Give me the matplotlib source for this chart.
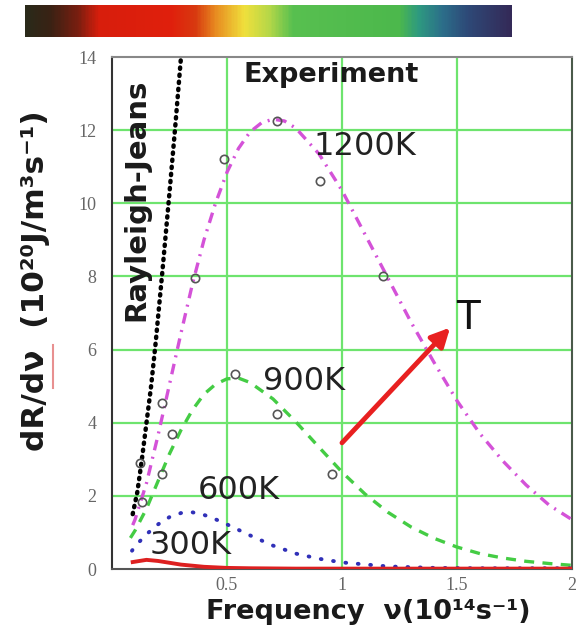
import numpy as np
import matplotlib.pyplot as plt
from matplotlib.colors import LinearSegmentedColormap
from matplotlib.lines import Line2D

# curves (frequency in 1e14 Hz, dR/dv in 1e20 J/m^3 s^-1)
nu_1200 = [0.09, 0.10, 0.15, 0.20, 0.25, 0.30, 0.35, 0.40, 0.45, 0.50, 0.55, 0.60, 0.65, 0.70,
           0.75, 0.80, 0.90, 1.00, 1.10, 1.20, 1.30, 1.40, 1.50, 1.60, 1.70, 1.80, 1.90, 2.00]
r_1200 = [1.20, 1.35, 2.35, 3.65, 5.05, 6.45, 7.80, 9.00, 10.0, 10.85, 11.5, 11.95, 12.2, 12.3,
          12.25, 12.05, 11.35, 10.35, 9.15, 7.95, 6.75, 5.65, 4.6, 3.7, 2.95, 2.3, 1.75, 1.35]

nu_900 = [0.08, 0.10, 0.15, 0.20, 0.25, 0.30, 0.35, 0.40, 0.45, 0.50, 0.55, 0.60, 0.70, 0.80,
          0.90, 1.00, 1.10, 1.20, 1.30, 1.40, 1.50, 1.60, 1.70, 1.80, 1.90, 2.00]
r_900 = [0.85, 1.05, 1.65, 2.40, 3.15, 3.80, 4.35, 4.78, 5.05, 5.20, 5.22, 5.10, 4.65, 4.02,
         3.33, 2.65, 2.05, 1.55, 1.15, 0.84, 0.60, 0.42, 0.30, 0.21, 0.15, 0.10]

nu_600 = [0.087, 0.10, 0.15, 0.20, 0.25, 0.30, 0.35, 0.40, 0.45, 0.50, 0.60, 0.70, 0.80,
          0.90, 1.00, 1.20, 1.40, 1.60, 1.80, 2.00]
r_600 = [0.50, 0.62, 0.95, 1.22, 1.42, 1.53, 1.55, 1.48, 1.36, 1.22, 0.92, 0.64, 0.42,
         0.28, 0.18, 0.07, 0.03, 0.02, 0.02, 0.02]

nu_300 = [0.09, 0.12, 0.15, 0.20, 0.25, 0.30, 0.40, 0.50, 0.60, 0.80, 1.00, 1.50, 2.00]
r_300 = [0.19, 0.22, 0.25, 0.22, 0.17, 0.12, 0.06, 0.03, 0.02, 0.01, 0.01, 0.01, 0.01]

nu_rj = [0.09, 0.11, 0.13, 0.15, 0.17, 0.19, 0.22, 0.25, 0.275, 0.30, 0.31]
r_rj = [1.5, 2.1, 3.0, 4.0, 5.0, 6.2, 8.2, 10.3, 12.1, 14.0, 14.8]

# experimental points (open circles)
exp_nu_1200 = [0.122, 0.13, 0.217, 0.361, 0.485, 0.718, 0.904, 1.178]
exp_r_1200 = [2.9, 1.83, 4.55, 7.96, 11.2, 12.25, 10.6, 8.0]
exp_nu_900 = [0.217, 0.262, 0.535, 0.717, 0.955]
exp_r_900 = [2.6, 3.7, 5.34, 4.25, 2.6]

temps = ['1200K', '900K', '600K', '300K']
label_pos = [(0.874, 11.55), (0.657, 5.12), (0.374, 2.15), (0.165, 0.65)]

fig = plt.figure(figsize=(5.84, 6.44), dpi=100)

# spectrum strip on top
spec = LinearSegmentedColormap.from_list('spec', [
    (0.0, '#2a2a1a'), (0.05, '#3a2214'), (0.107, '#7a1e10'), (0.15, '#d81e0c'),
    (0.30, '#e0200c'), (0.35, '#d83a10'), (0.39, '#e88a20'), (0.45, '#f0e03c'),
    (0.50, '#b8d848'), (0.55, '#58c050'), (0.77, '#4cb84c'), (0.81, '#2e9a80'),
    (0.86, '#2c6e8a'), (0.91, '#2e4a78'), (1.0, '#342a58')])
bar = fig.add_axes([25 / 584, 1 - 37 / 644, 487 / 584, 32 / 644])
bar.imshow(np.linspace(0, 1, 400)[None, :], aspect='auto', cmap=spec)
bar.axis('off')

ax = fig.add_axes([112 / 584, 1 - 569 / 644, 460 / 584, 512 / 644])
ax.set_xlim(0, 2)
ax.set_ylim(0, 14)

for x in [0.5, 1.0, 1.5]:
    ax.axvline(x, color='#6ee46e', lw=1.6, zorder=1)
for y in [2, 4, 6, 8, 10, 12]:
    ax.axhline(y, color='#6ee46e', lw=1.6, zorder=1)

ax.plot(nu_rj, r_rj, color='black', lw=3.2, dashes=(0.3, 1.3), dash_capstyle='round', zorder=4)
ax.plot(nu_1200, r_1200, color='#d452d8', lw=2.4, dashes=(3.2, 2, 0.6, 2), zorder=3)
ax.plot(nu_900, r_900, color='#44cc44', lw=2.4, dashes=(3, 2.5), zorder=3)
ax.plot(nu_600, r_600, color='#3030b8', lw=2.8, dashes=(0.2, 3.0), dash_capstyle='round', zorder=3)
ax.plot(nu_300, r_300, color='#dd2020', lw=2.8, zorder=3)

ax.plot(exp_nu_1200, exp_r_1200, 'o', mfc='none', mec='#555555', ms=6, mew=1.2, zorder=5)
ax.plot(exp_nu_900, exp_r_900, 'o', mfc='none', mec='#555555', ms=6, mew=1.2, zorder=5)

for t, (x, y) in zip(temps, label_pos):
    ax.text(x, y, t, fontsize=23, color='#222222', ha='left', va='center', zorder=6)

ax.text(0.57, 13.5, 'Experiment', fontsize=19.5, fontweight='bold', color='#1a1a1a',
        ha='left', va='center')
ax.text(0.104, 10.1, 'Rayleigh-Jeans', fontsize=21, fontweight='bold', color='#1a1a1a',
        rotation=90, ha='center', va='center')

ax.annotate('', xy=(1.47, 6.6), xytext=(1.0, 3.45),
            arrowprops=dict(arrowstyle='-|>', color='#e82020', lw=3.5, mutation_scale=28,
                            shrinkA=0, shrinkB=0))
ax.text(1.495, 6.85, 'T', fontsize=28, color='#111111', ha='left', va='center')

ax.set_xticks([0.5, 1, 1.5, 2])
ax.set_xticklabels(['0.5', '1', '1.5', '2'])
ax.set_yticks(range(0, 15, 2))
ax.tick_params(length=0, labelsize=13, labelcolor='#666666')
ax.tick_params(axis='y', pad=11)
ax.tick_params(axis='x', pad=6)
for lab in ax.get_xticklabels() + ax.get_yticklabels():
    lab.set_family('Liberation Serif')

ax.spines['left'].set_color('#333333')
ax.spines['bottom'].set_color('#555555')
ax.spines['top'].set_color('#888888')
ax.spines['right'].set_color('#4a5a4a')
for s in ax.spines.values():
    s.set_linewidth(1.5)

fig.text(36 / 584, 1 - 281 / 644, 'dR/dν  (10²⁰J/m³s⁻¹)', fontsize=22.5, fontweight='bold',
         rotation=90, ha='center', va='center', color='#1a1a1a')
fig.add_artist(Line2D([53 / 584, 53 / 584], [1 - 388 / 644, 1 - 345 / 644],
                      color='#e89090', lw=1.5))
fig.text(368 / 584, 1 - 612 / 644, 'Frequency  ν(10¹⁴s⁻¹)', fontsize=19.5, fontweight='bold',
         ha='center', va='center', color='#1a1a1a')

fig.savefig('out.png', dpi=100)
